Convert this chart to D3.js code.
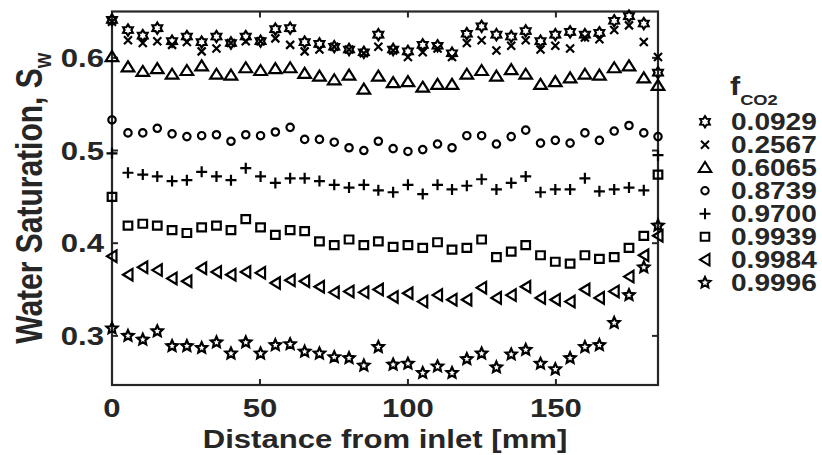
<!DOCTYPE html>
<html><head><meta charset="utf-8">
<script src="https://cdn.jsdelivr.net/npm/d3@7"></script>
<style>
body{margin:0;background:#fff}
svg{display:block}
text{font-family:"Liberation Sans",Arial,Helvetica,sans-serif;font-weight:bold;fill:#262626}
</style>
</head><body>
<svg id="c" width="822" height="455"></svg>
<script>
// ---- data ----
const distances = [0, 5.4, 10.4, 15.3, 20.3, 25.3, 30.3, 35.3, 40.2, 45.2, 50.2, 55.2, 60.2, 65.1, 70.1, 75.1, 80.1, 85.1, 90.0, 95.0, 100.0, 105.0, 110.0, 114.9, 119.9, 124.9, 129.9, 134.9, 139.8, 144.8, 149.8, 154.8, 159.8, 164.7, 169.7, 174.7, 179.7, 184.5];
const seriesLabels = ["0.0929","0.2567","0.6065","0.8739","0.9700","0.9939","0.9984","0.9996"];
const s0929 = [0.641, 0.630,0.624,0.632,0.618,0.623,0.617,0.623,0.616,0.623,0.618,0.631,0.632,0.617,0.615,0.612,0.609,0.606, 0.625, 0.609,0.607,0.614,0.613,0.605,0.626,0.634,0.625,0.623,0.629,0.618,0.625,0.628,0.625,0.627,0.640,0.645,0.637, 0.584];
const s2567 = [0.639, 0.619,0.616,0.618,0.614,0.617,0.607,0.610,0.616,0.618,0.618,0.621,0.614,0.607,0.609,0.612,0.609,0.605, 0.612, 0.608,0.601,0.606,0.610,0.601,0.616,0.619,0.608,0.613,0.619,0.609,0.613,0.610,0.622,0.620,0.630,0.635,0.617, 0.601];
const s6065 = [0.601, 0.590,0.585,0.588,0.582,0.586,0.591,0.582,0.581,0.589,0.586,0.588,0.589,0.583,0.580,0.576,0.581,0.566, 0.580, 0.573,0.574,0.568,0.571,0.571,0.582,0.586,0.580,0.587,0.582,0.571,0.574,0.578,0.582,0.581,0.589,0.591,0.578, 0.570];
const s8739 = [0.533, 0.519,0.519,0.524,0.518,0.515,0.516,0.517,0.510,0.517,0.516,0.520,0.525,0.512,0.512,0.509,0.503,0.500, 0.510, 0.502,0.499,0.501,0.507,0.503,0.516,0.516,0.507,0.515,0.522,0.508,0.511,0.508,0.519,0.511,0.521,0.527,0.519, 0.515];
const s9700 = [0.497, 0.476,0.474,0.472,0.467,0.468,0.477,0.472,0.468,0.481,0.472,0.465,0.470,0.470,0.467,0.463,0.460,0.463, 0.457, 0.455,0.463,0.453,0.463,0.458,0.462,0.469,0.458,0.465,0.472,0.455,0.458,0.458,0.470,0.456,0.458,0.460,0.457, 0.495];
const s9939 = [0.450, 0.419,0.421,0.419,0.414,0.411,0.417,0.419,0.414,0.426,0.417,0.409,0.414,0.413,0.402,0.398,0.404,0.398, 0.402, 0.396,0.398,0.395,0.401,0.393,0.395,0.404,0.385,0.391,0.398,0.387,0.380,0.378,0.387,0.383,0.385,0.395,0.408, 0.474];
const s9984 = [0.386, 0.366,0.374,0.371,0.362,0.359,0.373,0.369,0.366,0.369,0.368,0.357,0.360,0.359,0.353,0.347,0.348,0.347, 0.350, 0.342,0.346,0.337,0.344,0.339,0.339,0.352,0.341,0.344,0.353,0.341,0.339,0.337,0.350,0.341,0.348,0.364,0.387, 0.408];
const s9996 = [0.308, 0.300,0.296,0.305,0.289,0.289,0.287,0.293,0.281,0.293,0.281,0.290,0.291,0.283,0.281,0.277,0.276,0.268, 0.288, 0.269,0.270,0.260,0.267,0.260,0.275,0.281,0.266,0.280,0.285,0.270,0.264,0.276,0.288,0.290,0.314,0.344,0.374, 0.419];
const markerKinds = ["hexagram","x","triUp","circle","plus","square","triLeft","pentagram"];
const xTicks = [0, 50, 100, 150];
const yTicks = [0.3, 0.4, 0.5, 0.6];

const seriesValues = [s0929, s2567, s6065, s8739, s9700, s9939, s9984, s9996];

// ---- layout ----
const SX = 1.22; // horizontal text stretch of the original figure
const svg = d3.select("#c");
const L = 112, R = 658, T = 11.5, B = 385;
const x = d3.scaleLinear().domain([0, 184.5]).range([L, R]);
const y = d3.scaleLinear().domain([0.247, 0.650]).range([B, T]);
const INK = "#262626";

function star(n, ro, ri) {
  const pts = [];
  for (let i = 0; i < 2 * n; i++) {
    const r = i % 2 === 0 ? ro : ri;
    const a = -Math.PI / 2 + i * Math.PI / n;
    pts.push([r * Math.cos(a), r * Math.sin(a)]);
  }
  return "M" + pts.map(p => p[0].toFixed(2) + "," + p[1].toFixed(2)).join("L") + "Z";
}
const circlePath = (() => { const p = d3.path(); p.arc(0, 0, 3.7, 0, 2 * Math.PI); p.closePath(); return p.toString(); })();
const markerPath = {
  hexagram: star(6, 5.6, 3.4),
  pentagram: star(5, 5.8, 2.7),
  x: "M-4,-4L4,4M-4,4L4,-4",
  triUp: "M0,-5.8L6.3,4.2L-6.3,4.2Z",
  circle: circlePath,
  plus: "M-5.5,0L5.5,0M0,-5.5L0,5.5",
  square: "M-4.3,-4L4.3,-4L4.3,4L-4.3,4Z",
  triLeft: "M-5,0L4.5,-5.8L4.5,5.8Z"
};

// ---- frame ----
svg.append("rect").attr("x", L).attr("y", T).attr("width", R - L).attr("height", B - T)
  .attr("fill", "none").attr("stroke", INK).attr("stroke-width", 2.2);

const TL = 6;
const gt = svg.append("g").attr("stroke", INK).attr("stroke-width", 2);
xTicks.forEach(t => {
  gt.append("line").attr("x1", x(t)).attr("x2", x(t)).attr("y1", B).attr("y2", B - TL);
  gt.append("line").attr("x1", x(t)).attr("x2", x(t)).attr("y1", T).attr("y2", T + TL);
});
yTicks.forEach(t => {
  gt.append("line").attr("x1", L).attr("x2", L + TL).attr("y1", y(t)).attr("y2", y(t));
  gt.append("line").attr("x1", R).attr("x2", R - TL).attr("y1", y(t)).attr("y2", y(t));
});

function stext(txt, px, py, size, anchor) {
  return svg.append("text")
    .attr("transform", `translate(${px},${py}) scale(${SX},1)`)
    .attr("text-anchor", anchor).attr("font-size", size).text(txt);
}
xTicks.forEach(t => stext(d3.format("d")(t), x(t), 417, 25.5, "middle"));
yTicks.forEach(t => stext(d3.format(".1f")(t), 104, y(t) + 9, 25.5, "end"));

stext("Distance from inlet [mm]", (L + R) / 2, 448, 25.5, "middle");

const yl = svg.append("text")
  .attr("transform", `translate(42,${(T + B) / 2}) scale(${SX},1) rotate(-90)`)
  .attr("text-anchor", "middle").attr("font-size", 30);
yl.append("tspan").text("Water Saturation, S");
yl.append("tspan").attr("font-size", 20).attr("dy", 7).text("w");

// ---- series ----
seriesValues.forEach((vals, si) => {
  svg.append("g").selectAll("path").data(vals).join("path")
    .attr("d", markerPath[markerKinds[si]])
    .attr("transform", (v, i) => `translate(${x(distances[i])},${y(v)})`)
    .attr("fill", "none").attr("stroke", "#000").attr("stroke-width", 2.2)
    .attr("stroke-linejoin", "miter");
});

// ---- legend ----
const lg = svg.append("g");
const ft = svg.append("text").attr("transform", `translate(730,95) scale(${SX},1)`).attr("font-size", 25);
ft.append("tspan").text("f");
ft.append("tspan").attr("font-size", 15).attr("dy", 9.5).text("CO2");
seriesLabels.forEach((lab, i) => {
  const cy = 121.7 + i * 23.0;
  lg.append("path").attr("d", markerPath[markerKinds[i]])
    .attr("transform", `translate(705,${cy})`)
    .attr("fill", "none").attr("stroke", "#000").attr("stroke-width", 2);
  stext(lab, 731, cy + 8.5, 23, "start");
});
</script>
</body></html>
